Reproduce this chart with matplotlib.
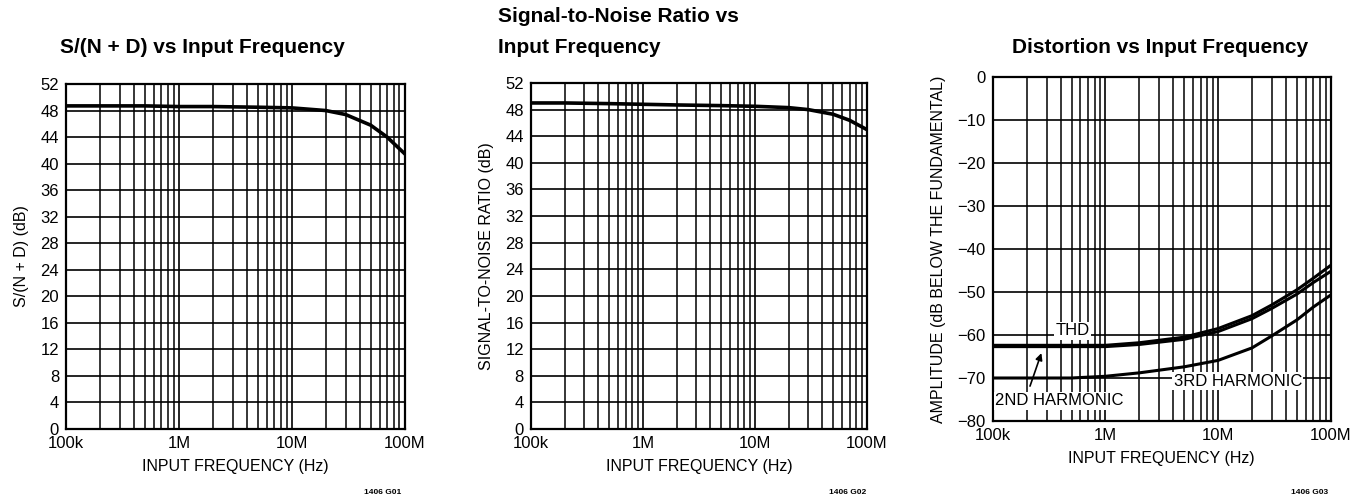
import matplotlib
matplotlib.use("Agg")
import matplotlib.pyplot as plt
from matplotlib.ticker import LogLocator, NullFormatter, FixedLocator

plt.rcParams['font.family'] = ['Liberation Sans', 'DejaVu Sans']

# Frequency points (Hz)
freq = [1e5, 2e5, 5e5, 1e6, 2e6, 5e6, 1e7, 2e7, 3e7, 5e7, 7e7, 1e8]

# S/(N + D) in dB
snd = [48.7, 48.7, 48.7, 48.6, 48.6, 48.5, 48.4, 48.0, 47.4, 45.8, 44.0, 41.5]
# Signal-to-noise ratio in dB
snr = [49.0, 49.0, 48.9, 48.8, 48.7, 48.6, 48.5, 48.3, 48.0, 47.3, 46.4, 45.0]
# Distortion, dB below the fundamental
thd = [-62.4, -62.4, -62.4, -62.4, -61.8, -60.5, -58.5, -55.5, -53.0, -49.5, -46.8, -43.8]
h2 = [-62.7, -62.7, -62.7, -62.7, -62.2, -61.0, -59.2, -56.2, -53.8, -50.5, -47.8, -45.2]
h3 = [-70.0, -70.0, -70.0, -69.6, -68.8, -67.4, -65.9, -63.0, -60.2, -56.5, -53.5, -50.7]

xticks = [1e5, 1e6, 1e7, 1e8]
xticklabels = ['100k', '1M', '10M', '100M']
yticks_db = list(range(0, 53, 4))
yticks_dist = list(range(-80, 1, 10))

fig = plt.figure(figsize=(13.6, 5), dpi=100)

ax1 = fig.add_axes([0.0485, 0.142, 0.249, 0.690])
ax2 = fig.add_axes([0.3904, 0.142, 0.247, 0.692])
ax3 = fig.add_axes([0.7300, 0.158, 0.2485, 0.688])


def style(ax, yticks):
    ax.set_xscale('log')
    ax.set_xlim(1e5, 1e8)
    ax.set_ylim(yticks[0], yticks[-1])
    ax.xaxis.set_major_locator(FixedLocator(xticks))
    ax.set_xticklabels(xticklabels)
    ax.xaxis.set_minor_locator(LogLocator(base=10, subs=range(2, 10)))
    ax.xaxis.set_minor_formatter(NullFormatter())
    ax.yaxis.set_major_locator(FixedLocator(yticks))
    ax.grid(True, which='major', color='black', linewidth=1.2)
    ax.grid(True, which='minor', axis='x', color='black', linewidth=1.1)
    ax.tick_params(which='both', length=0, labelsize=12, pad=5)
    for s in ax.spines.values():
        s.set_linewidth(1.6)
    ax.set_xlabel('INPUT FREQUENCY (Hz)', fontsize=11.5, labelpad=6)


style(ax1, yticks_db)
ax1.plot(freq, snd, color='black', linewidth=2.6)
ax1.set_ylabel('S/(N + D) (dB)', fontsize=11.5, labelpad=8)

style(ax2, yticks_db)
ax2.plot(freq, snr, color='black', linewidth=2.6)
ax2.set_ylabel('SIGNAL-TO-NOISE RATIO (dB)', fontsize=11.5, labelpad=8)

style(ax3, yticks_dist)
ax3.set_yticklabels(['\u221280', '\u221270', '\u221260', '\u221250', '\u221240',
                     '\u221230', '\u221220', '\u221210', '0'])
ax3.plot(freq, h2, color='black', linewidth=2.2)
ax3.plot(freq, thd, color='black', linewidth=2.2)
ax3.plot(freq, h3, color='black', linewidth=2.2)
ax3.set_ylabel('AMPLITUDE (dB BELOW THE FUNDAMENTAL)', fontsize=11.5, labelpad=8)

box = dict(facecolor='white', edgecolor='none', pad=1.0)
ax3.text(5.1e5, -59.0, 'THD', fontsize=12, ha='center', va='center', bbox=box)
ax3.text(3.9e5, -75.3, '2ND HARMONIC', fontsize=12, ha='center', va='center', bbox=box)
ax3.text(1.5e7, -70.7, '3RD HARMONIC', fontsize=12, ha='center', va='center', bbox=box)
ax3.annotate('', xy=(2.75e5, -63.6), xytext=(2.1e5, -72.5),
             arrowprops=dict(arrowstyle='-|>', color='black', linewidth=1.2,
                             mutation_scale=10))

title_kw = dict(fontsize=15, fontweight='bold', ha='left', va='center')
fig.text(0.044, 0.905, 'S/(N + D) vs Input Frequency', **title_kw)
fig.text(0.366, 0.966, 'Signal-to-Noise Ratio vs', **title_kw)
fig.text(0.366, 0.905, 'Input Frequency', **title_kw)
fig.text(0.744, 0.905, 'Distortion vs Input Frequency', **title_kw)

code_kw = dict(fontsize=6, fontweight='bold', ha='center', va='center')
fig.text(0.281, 0.016, '1406 G01', **code_kw)
fig.text(0.623, 0.016, '1406 G02', **code_kw)
fig.text(0.963, 0.016, '1406 G03', **code_kw)

fig.savefig('out.png', dpi=100, facecolor='white')
